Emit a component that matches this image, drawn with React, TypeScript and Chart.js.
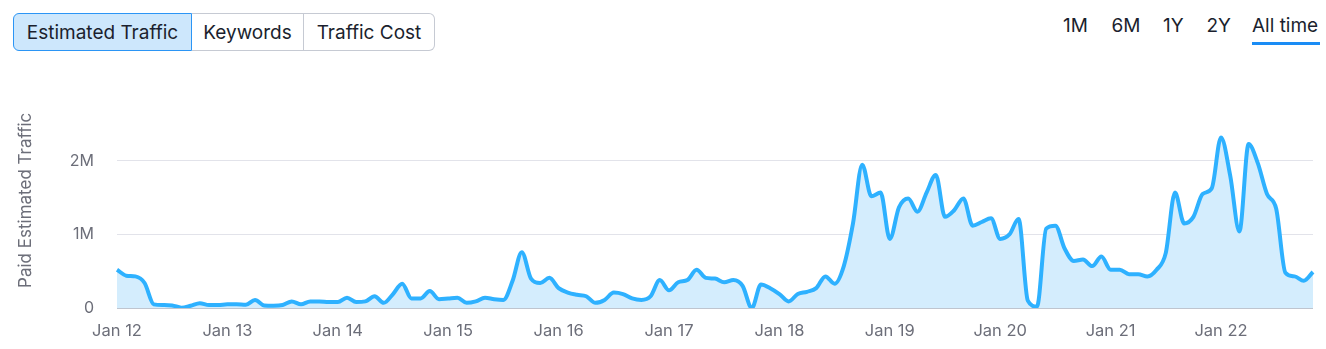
import React, { useEffect, useRef } from 'react';
import { Chart, registerables } from 'chart.js';

Chart.register(...registerables);

const MONTHS = ['Jan', 'Feb', 'Mar', 'Apr', 'May', 'Jun', 'Jul', 'Aug', 'Sep', 'Oct', 'Nov', 'Dec'];
const YEARS = ['12', '13', '14', '15', '16', '17', '18', '19', '20', '21', '22'];

// Paid estimated traffic, millions, one array per year
const traffic2012 = [0.52, 0.44, 0.43, 0.34, 0.05, 0.04, 0.035, 0.005, 0.03, 0.065, 0.04, 0.04];
const traffic2013 = [0.05, 0.05, 0.045, 0.11, 0.035, 0.03, 0.04, 0.09, 0.05, 0.09, 0.09, 0.08];
const traffic2014 = [0.08, 0.14, 0.08, 0.09, 0.16, 0.07, 0.19, 0.33, 0.13, 0.13, 0.23, 0.12];
const traffic2015 = [0.13, 0.14, 0.07, 0.09, 0.14, 0.12, 0.11, 0.37, 0.76, 0.4, 0.34, 0.41];
const traffic2016 = [0.27, 0.21, 0.18, 0.16, 0.07, 0.11, 0.21, 0.19, 0.13, 0.11, 0.16, 0.38];
const traffic2017 = [0.24, 0.35, 0.38, 0.52, 0.41, 0.4, 0.35, 0.38, 0.3, 0.0, 0.32, 0.27];
const traffic2018 = [0.19, 0.09, 0.19, 0.22, 0.27, 0.43, 0.33, 0.57, 1.15, 1.95, 1.52, 1.57];
const traffic2019 = [0.94, 1.37, 1.49, 1.31, 1.57, 1.81, 1.24, 1.33, 1.49, 1.12, 1.17, 1.22];
const traffic2020 = [0.94, 1.0, 1.21, 0.1, 0.02, 1.08, 1.12, 0.81, 0.64, 0.66, 0.57, 0.7];
const traffic2021 = [0.52, 0.52, 0.46, 0.46, 0.43, 0.52, 0.75, 1.57, 1.15, 1.24, 1.55, 1.63];
const traffic2022 = [2.32, 1.8, 1.04, 2.23, 1.97, 1.55, 1.35, 0.48, 0.43, 0.37, 0.49];

const TRAFFIC_M = [
  ...traffic2012, ...traffic2013, ...traffic2014, ...traffic2015, ...traffic2016, ...traffic2017,
  ...traffic2018, ...traffic2019, ...traffic2020, ...traffic2021, ...traffic2022,
];
const TRAFFIC = TRAFFIC_M.map((v) => v * 1000000);
const LABELS = YEARS.flatMap((y) => MONTHS.map((m) => `${m} ${y}`)).slice(0, TRAFFIC.length);

const Y_TICKS = [0, 1000000, 2000000];
const Y_TICK_LABELS = ['0', '1M', '2M'];
const Y_TITLE = 'Paid Estimated Traffic';

const TABS = ['Estimated Traffic', 'Keywords', 'Traffic Cost'];
const RANGES = ['1M', '6M', '1Y', '2Y', 'All time'];

const FONT = 'Inter, "Noto Sans", sans-serif';
const TEXT_DARK = '#1b1f2e';
const AXIS_GREY = '#6c6e79';

export default function App() {
  const canvasRef = useRef<HTMLCanvasElement | null>(null);

  useEffect(() => {
    const canvas = canvasRef.current;
    if (!canvas) return;
    const chart = new Chart(canvas, {
      type: 'line',
      data: {
        labels: LABELS,
        datasets: [
          {
            data: TRAFFIC,
            borderColor: '#2eb1ff',
            backgroundColor: '#d4edfd',
            fill: 'origin',
            borderWidth: 4,
            pointRadius: 0,
            pointHoverRadius: 0,
            cubicInterpolationMode: 'monotone',
          },
        ],
      },
      options: {
        animation: false,
        responsive: false,
        maintainAspectRatio: false,
        layout: { padding: { top: 28, right: 13, left: 0, bottom: 0 } },
        plugins: { legend: { display: false }, tooltip: { enabled: false } },
        scales: {
          x: {
            offset: false,
            grid: { display: false, drawTicks: false },
            border: { display: false },
            ticks: {
              autoSkip: false,
              maxRotation: 0,
              minRotation: 0,
              padding: 13,
              color: AXIS_GREY,
              font: { family: FONT, size: 16.5 },
              callback: (_v: any, i: number) => (LABELS[i].startsWith('Jan') ? LABELS[i] : ''),
            },
            afterFit: (s: any) => {
              s.height = 41;
            },
          },
          y: {
            min: 0,
            max: 2930000,
            afterBuildTicks: (axis: any) => {
              axis.ticks = Y_TICKS.map((v) => ({ value: v }));
            },
            grid: {
              drawTicks: false,
              lineWidth: 1,
              color: (ctx: any) => (ctx.tick && ctx.tick.value === 0 ? '#bfc5cf' : '#e2e3ea'),
            },
            border: { display: false },
            ticks: {
              padding: 23,
              color: AXIS_GREY,
              font: { family: FONT, size: 16 },
              callback: (v: any) => {
                const idx = Y_TICKS.indexOf(Number(v));
                return idx >= 0 ? Y_TICK_LABELS[idx] : '';
              },
            },
            title: {
              display: true,
              text: Y_TITLE,
              color: AXIS_GREY,
              font: { family: FONT, size: 17 },
              padding: { top: 15.8, bottom: 0 },
            },
            afterFit: (s: any) => {
              s.width = 117;
            },
          },
        },
      },
    });
    return () => chart.destroy();
  }, []);

  const tabBase: React.CSSProperties = {
    position: 'absolute',
    top: 13,
    height: 38,
    boxSizing: 'border-box',
    display: 'flex',
    alignItems: 'center',
    justifyContent: 'center',
    fontSize: 19,
    color: TEXT_DARK,
    fontFamily: FONT,
    whiteSpace: 'nowrap',
  };
  const tabGeom = [
    { left: 13, width: 179 },
    { left: 192, width: 112 },
    { left: 304, width: 131 },
  ];
  const rangeLefts = [1063, 1111.5, 1163, 1206.5, 1252];

  return (
    <div
      style={{
        position: 'absolute',
        left: 0,
        top: 0,
        width: 1326,
        height: 349,
        background: '#ffffff',
        fontFamily: FONT,
        overflow: 'hidden',
      }}
    >
      {TABS.map((t, i) => (
        <div
          key={t}
          style={{
            ...tabBase,
            left: tabGeom[i].left,
            width: tabGeom[i].width,
            background: i === 0 ? '#cde7fc' : '#ffffff',
            border: i === 0 ? '1px solid #2b95f5' : '1px solid #c6cad3',
            borderLeft: i === 0 ? '1px solid #2b95f5' : 'none',
            borderRadius: i === 0 ? '6px 0 0 6px' : i === 2 ? '0 6px 6px 0' : 0,
          }}
        >
          {t}
        </div>
      ))}
      {RANGES.map((r, i) => (
        <div
          key={r}
          style={{
            position: 'absolute',
            left: rangeLefts[i],
            top: 14,
            height: 23,
            lineHeight: '23px',
            fontSize: 19,
            color: TEXT_DARK,
            fontFamily: FONT,
            whiteSpace: 'nowrap',
          }}
        >
          {r}
        </div>
      ))}
      <div
        style={{ position: 'absolute', left: 1252, top: 42, width: 68, height: 3, background: '#1a8cf5' }}
      />
      <canvas
        ref={canvasRef}
        width={1326}
        height={289}
        style={{ position: 'absolute', left: 0, top: 60, width: 1326, height: 289 }}
      />
    </div>
  );
}
